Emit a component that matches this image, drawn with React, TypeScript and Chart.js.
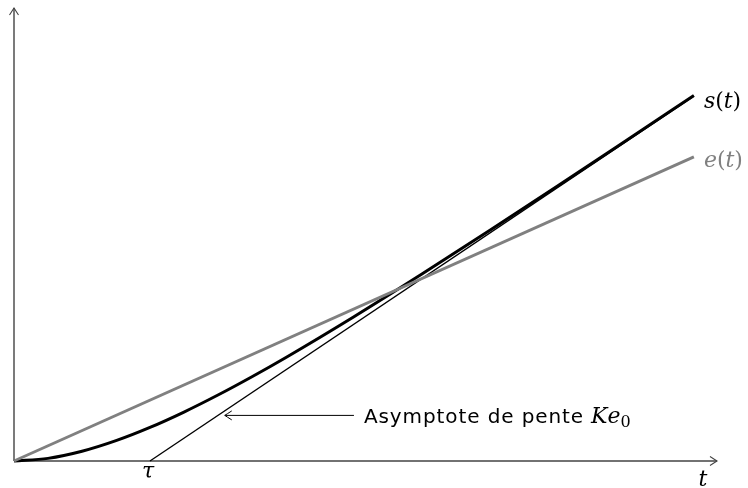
import React, { useEffect, useRef } from "react";
import { Chart, registerables } from "chart.js";

Chart.register(...registerables);

// Data (time in units of tau)
const tValues = [0, 0.25, 0.5, 0.75, 1, 1.25, 1.5, 1.75, 2, 2.5, 3, 3.5, 4, 4.5, 5];
const sValues = [0, 0.043, 0.16, 0.334, 0.552, 0.805, 1.085, 1.386, 1.703, 2.373, 3.075, 3.795, 4.527, 5.267, 6.01];
const eT = [0, 5];
const eValues = [0, 5];
const asymT = [1, 5];
const asymValues = [0, 6];
const tau = 1;
const xMax = 5.17;
const yMax = 7.45;
// annotation arrow (data coordinates)
const arrowTip = { t: 1.55, y: 0.75 };
const arrowTail = { t: 2.5, y: 0.75 };

type Seg = { text: string; font: string; dy?: number };

function drawSegs(ctx: CanvasRenderingContext2D, segs: Seg[], x: number, y: number, color: string, spacing = "0px") {
  ctx.save();
  ctx.fillStyle = color;
  ctx.textBaseline = "alphabetic";
  ctx.textAlign = "left";
  (ctx as any).letterSpacing = spacing;
  let cx = x;
  for (const s of segs) {
    ctx.font = s.font;
    ctx.fillText(s.text, cx, y + (s.dy || 0));
    cx += ctx.measureText(s.text).width;
  }
  ctx.restore();
}

function chevron(ctx: CanvasRenderingContext2D, x: number, y: number, angle: number, len: number, half: number) {
  ctx.save();
  ctx.translate(x, y);
  ctx.rotate(angle);
  ctx.beginPath();
  ctx.moveTo(-len, -half);
  ctx.quadraticCurveTo(-len * 0.3, -half * 0.3, 0, 0);
  ctx.quadraticCurveTo(-len * 0.3, half * 0.3, -len, half);
  ctx.stroke();
  ctx.restore();
}

const MI = "italic 22px 'DejaVu Serif'";
const RM = "22px 'DejaVu Serif'";

const decor = {
  id: "decor",
  beforeDatasetsDraw(chart: any) {
    const { ctx, chartArea } = chart;
    const xs = chart.scales.x;
    const ys = chart.scales.y;
    const x0 = xs.getPixelForValue(0);
    const y0 = ys.getPixelForValue(0);
    ctx.save();
    ctx.strokeStyle = "#444";
    ctx.lineWidth = 1.4;
    ctx.beginPath();
    ctx.moveTo(x0, y0);
    ctx.lineTo(chartArea.right, y0);
    ctx.moveTo(x0, y0);
    ctx.lineTo(x0, chartArea.top);
    ctx.stroke();
    ctx.lineWidth = 1.1;
    chevron(ctx, chartArea.right, y0, 0, 7, 4.5);
    chevron(ctx, x0, chartArea.top, -Math.PI / 2, 7, 4.5);
    ctx.restore();
  },
  afterDatasetsDraw(chart: any) {
    const { ctx } = chart;
    const xs = chart.scales.x;
    const ys = chart.scales.y;
    const px = (v: number) => xs.getPixelForValue(v);
    const py = (v: number) => ys.getPixelForValue(v);
    const lastT = tValues[tValues.length - 1];

    // series labels
    drawSegs(ctx, [
      { text: "s", font: MI },
      { text: "(", font: RM },
      { text: "t", font: MI },
      { text: ")", font: RM },
    ], px(lastT) + 10, py(sValues[sValues.length - 1]) + 12, "#000");
    drawSegs(ctx, [
      { text: "e", font: MI },
      { text: "(", font: RM },
      { text: "t", font: MI },
      { text: ")", font: RM },
    ], px(eT[1]) + 10, py(eValues[1]) + 10, "#808080");

    // axis labels
    ctx.save();
    ctx.fillStyle = "#000";
    ctx.textAlign = "center";
    ctx.textBaseline = "alphabetic";
    ctx.font = MI;
    ctx.fillText("τ", px(tau) - 2, py(0) + 17);
    ctx.fillText("t", px(xMax) - 14, py(0) + 25);
    ctx.restore();

    // annotation arrow
    const tx = px(arrowTip.t), ty = py(arrowTip.y);
    const ax = px(arrowTail.t);
    ctx.save();
    ctx.strokeStyle = "#000";
    ctx.lineWidth = 1;
    ctx.beginPath();
    ctx.moveTo(ax, ty);
    ctx.lineTo(tx, ty);
    ctx.stroke();
    chevron(ctx, tx, ty, Math.PI, 7, 4.5);
    ctx.restore();

    const SANS = "20px 'DejaVu Sans'";
    drawSegs(ctx, [{ text: "Asymptote de pente", font: SANS }], ax + 10, ty + 8, "#000", "0.9px");
    ctx.save();
    ctx.font = SANS;
    (ctx as any).letterSpacing = "0.9px";
    const w = ctx.measureText("Asymptote de pente").width;
    ctx.restore();
    drawSegs(ctx, [
      { text: "K", font: MI },
      { text: "e", font: MI },
      { text: "0", font: "16px 'DejaVu Serif'", dy: 4 },
    ], ax + 10 + w + 7, ty + 8, "#000");
  },
};

export default function App() {
  const ref = useRef<HTMLCanvasElement | null>(null);
  useEffect(() => {
    if (!ref.current) return;
    const chart = new Chart(ref.current, {
      type: "line",
      data: {
        datasets: [
          {
            label: "e(t)",
            data: eT.map((t, i) => ({ x: t, y: eValues[i] })),
            borderColor: "#808080",
            borderWidth: 3,
            pointRadius: 0,
            clip: false as any,
          },
          {
            label: "asymptote",
            data: asymT.map((t, i) => ({ x: t, y: asymValues[i] })),
            borderColor: "#000",
            borderWidth: 1.4,
            pointRadius: 0,
            clip: false as any,
          },
          {
            label: "s(t)",
            data: tValues.map((t, i) => ({ x: t, y: sValues[i] })),
            borderColor: "#000",
            borderWidth: 3,
            pointRadius: 0,
            cubicInterpolationMode: "monotone",
            clip: false as any,
          },
        ],
      },
      options: {
        responsive: false,
        animation: false,
        devicePixelRatio: 1,
        layout: { padding: { left: 14, right: 31, top: 8, bottom: 27 } },
        plugins: { legend: { display: false }, tooltip: { enabled: false } },
        scales: {
          x: { type: "linear", min: 0, max: xMax, display: false },
          y: { type: "linear", min: 0, max: yMax, display: false },
        },
      },
      plugins: [decor],
    });
    return () => chart.destroy();
  }, []);
  return (
    <canvas
      ref={ref}
      width={748}
      height={488}
      style={{ position: "absolute", left: 0, top: 0, width: 748, height: 488 }}
    />
  );
}
